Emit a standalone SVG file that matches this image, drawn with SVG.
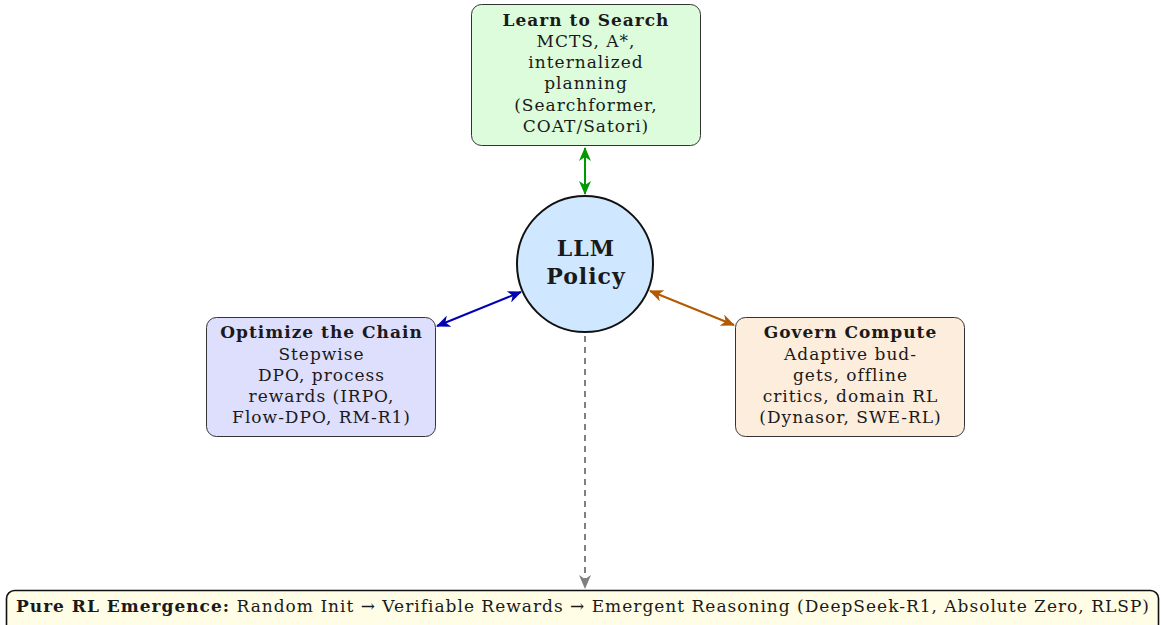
<svg xmlns="http://www.w3.org/2000/svg" width="1161" height="625" viewBox="0 0 1161 625">
<defs>
<style>
.t{font-family:"DejaVu Serif","Liberation Serif",serif;font-size:17px;letter-spacing:1px;fill:#1a1a1a;text-anchor:middle}
.b{font-weight:bold}
.box{stroke:#333;stroke-width:1}
</style>
<marker id="ag" viewBox="0 0 14 12" refX="13" refY="6" markerWidth="14" markerHeight="12" markerUnits="userSpaceOnUse" orient="auto-start-reverse"><path d="M0,0 L14,6 L0,12 L4,6 Z" fill="#009900"/></marker>
<marker id="ab" viewBox="0 0 14 12" refX="13" refY="6" markerWidth="14" markerHeight="12" markerUnits="userSpaceOnUse" orient="auto-start-reverse"><path d="M0,0 L14,6 L0,12 L4,6 Z" fill="#0000b3"/></marker>
<marker id="ao" viewBox="0 0 14 12" refX="13" refY="6" markerWidth="14" markerHeight="12" markerUnits="userSpaceOnUse" orient="auto-start-reverse"><path d="M0,0 L14,6 L0,12 L4,6 Z" fill="#b35900"/></marker>
<marker id="ay" viewBox="0 0 14 12" refX="13" refY="6" markerWidth="14" markerHeight="12" markerUnits="userSpaceOnUse" orient="auto"><path d="M0,0 L14,6 L0,12 L4,6 Z" fill="#808080"/></marker>
</defs>
<rect width="1161" height="625" fill="#fff"/>
<g id="connectors" fill="none" stroke-width="2">
<line x1="585" y1="148" x2="585" y2="194" stroke="#009900" marker-start="url(#ag)" marker-end="url(#ag)"/>
<line x1="437" y1="326" x2="521" y2="292" stroke="#0000b3" marker-start="url(#ab)" marker-end="url(#ab)"/>
<line x1="650" y1="291" x2="734" y2="325" stroke="#b35900" marker-start="url(#ao)" marker-end="url(#ao)"/>
<line x1="585" y1="336" x2="585" y2="588" stroke="#808080" stroke-dasharray="6,5" marker-end="url(#ay)"/>
</g>
<g id="search">
<rect class="box" x="471.5" y="4.5" width="229" height="141" rx="10" fill="#dcfcdc"/>
<text class="t b" x="586" y="26">Learn to Search</text>
<text class="t" x="586" y="47">MCTS, A*,</text>
<text class="t" x="586" y="68">internalized</text>
<text class="t" x="586" y="89">planning</text>
<text class="t" x="586" y="111">(Searchformer,</text>
<text class="t" x="586" y="132">COAT/Satori)</text>
</g>
<g id="policy">
<circle cx="585" cy="264" r="68" fill="#d0e8ff" stroke="#111" stroke-width="2"/>
<text class="t b" x="586" y="256" style="font-size:22px">LLM</text>
<text class="t b" x="586" y="284" style="font-size:22px">Policy</text>
</g>
<g id="chain">
<rect class="box" x="206.5" y="317.5" width="229" height="119" rx="10" fill="#dedefd"/>
<text class="t b" x="321.5" y="338">Optimize the Chain</text>
<text class="t" x="321.5" y="360">Stepwise</text>
<text class="t" x="321.5" y="381">DPO, process</text>
<text class="t" x="321.5" y="402">rewards (IRPO,</text>
<text class="t" x="321.5" y="423">Flow-DPO, RM-R1)</text>
</g>
<g id="compute">
<rect class="box" x="735.5" y="317.5" width="229" height="119" rx="10" fill="#fdeddd"/>
<text class="t b" x="850.5" y="338">Govern Compute</text>
<text class="t" x="850.5" y="360">Adaptive bud-</text>
<text class="t" x="850.5" y="381">gets, offline</text>
<text class="t" x="850.5" y="402">critics, domain RL</text>
<text class="t" x="850.5" y="423">(Dynasor, SWE-RL)</text>
</g>
<g id="emergence">
<rect x="6.5" y="590.5" width="1152" height="50" rx="8" fill="#fffde6" stroke="#111" stroke-width="1.6"/>
<text class="t" x="16" y="612" style="text-anchor:start"><tspan class="b">Pure RL Emergence:</tspan> Random Init → Verifiable Rewards → Emergent Reasoning (DeepSeek-R1, Absolute Zero, RLSP)</text>
</g>
</svg>
